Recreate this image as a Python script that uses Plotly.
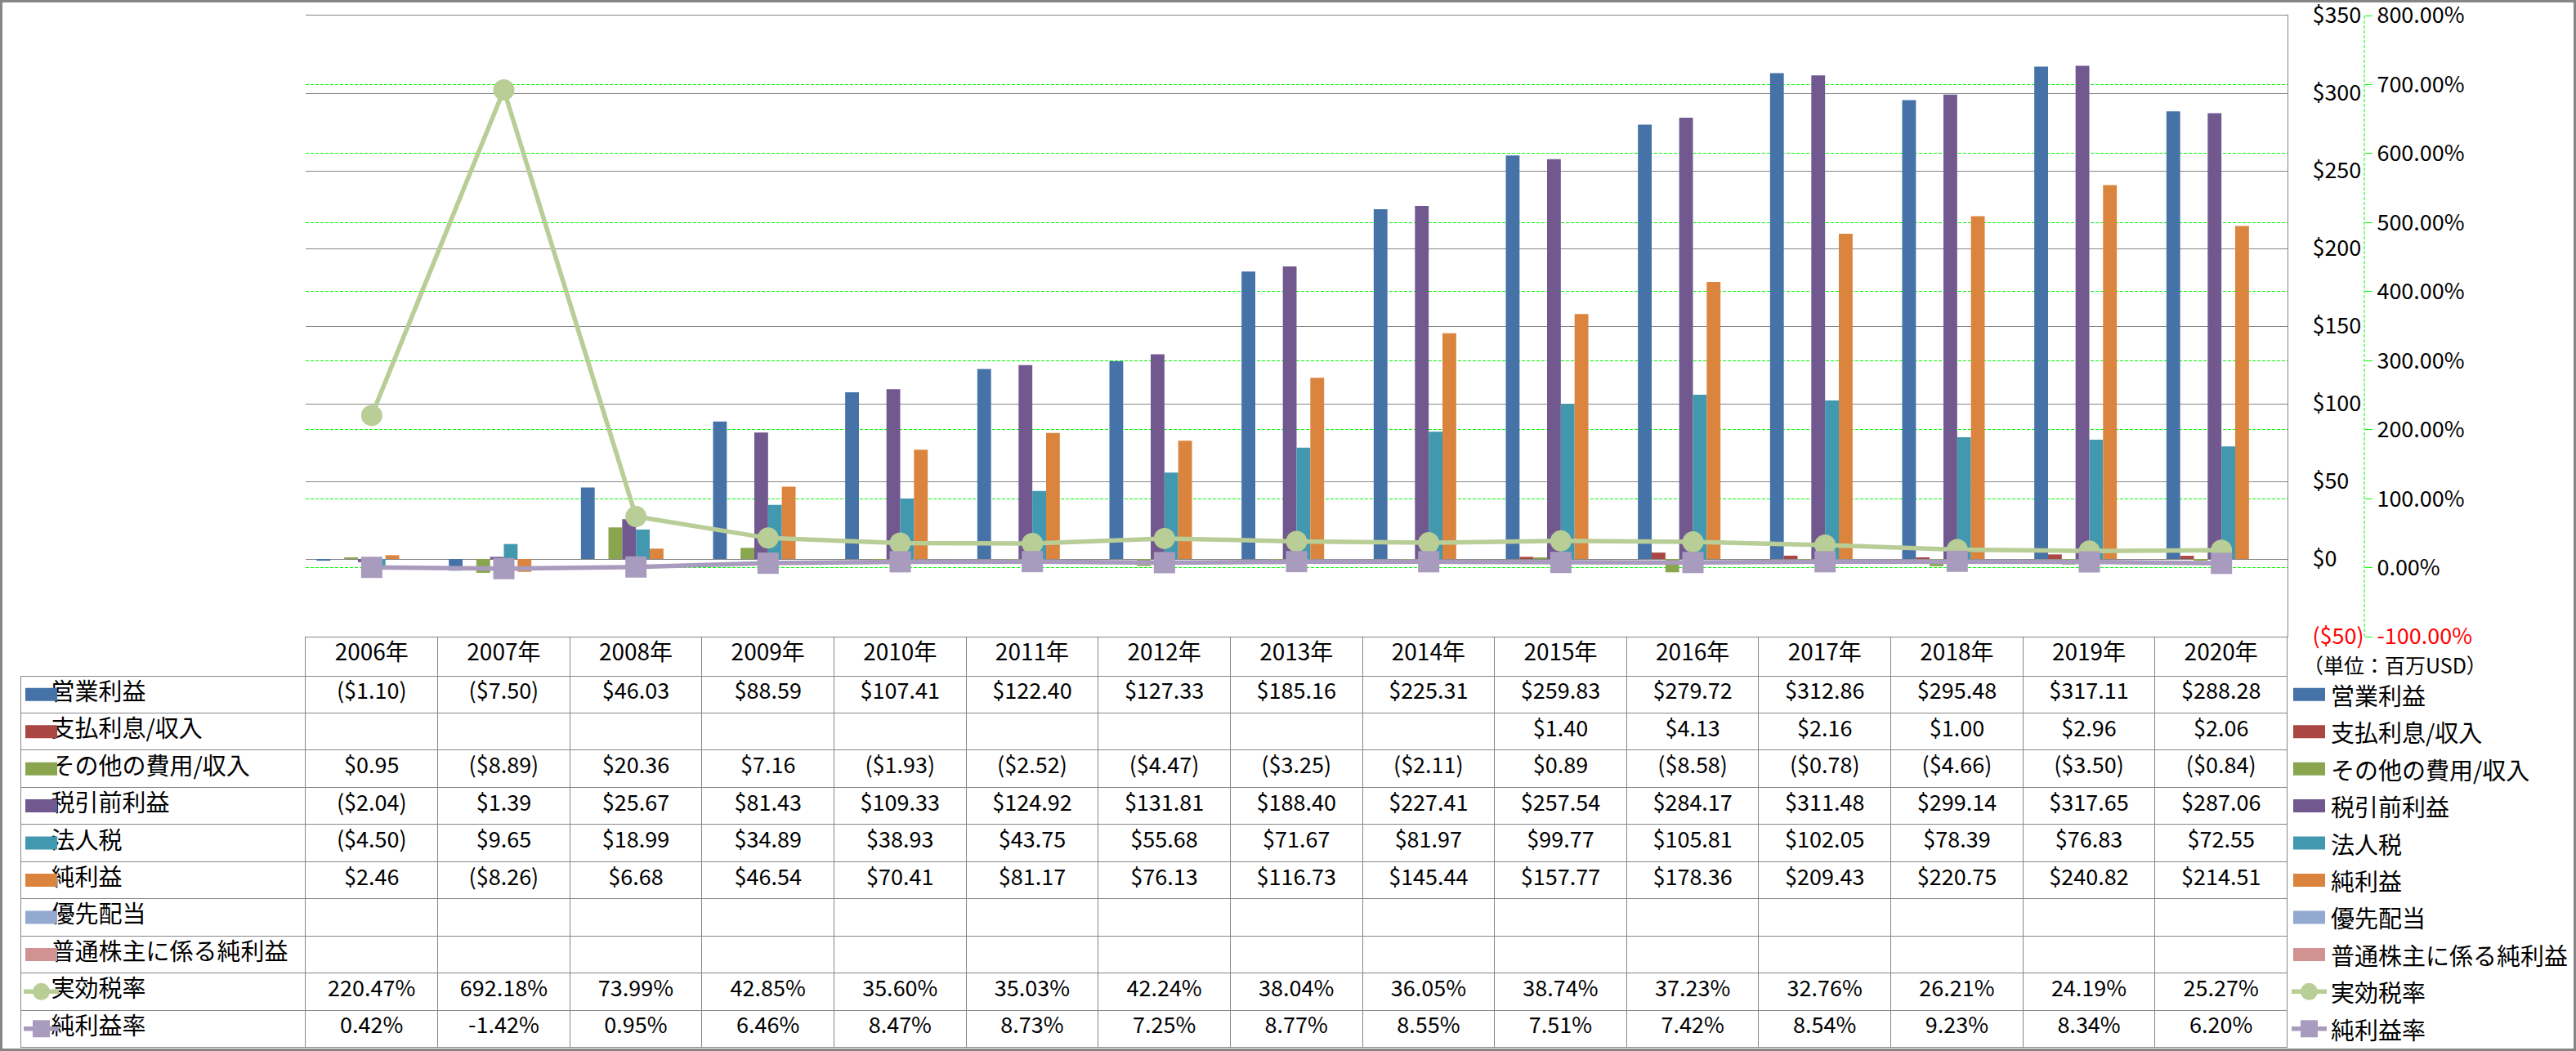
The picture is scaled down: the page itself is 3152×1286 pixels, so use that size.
import plotly.graph_objects as go

# ---------------- data ----------------
years = ["2006年", "2007年", "2008年", "2009年", "2010年", "2011年", "2012年", "2013年",
         "2014年", "2015年", "2016年", "2017年", "2018年", "2019年", "2020年"]

operating_income = [-1.10, -7.50, 46.03, 88.59, 107.41, 122.40, 127.33, 185.16,
                    225.31, 259.83, 279.72, 312.86, 295.48, 317.11, 288.28]
interest_expense = [None, None, None, None, None, None, None, None,
                    None, 1.40, 4.13, 2.16, 1.00, 2.96, 2.06]
other_expense = [0.95, -8.89, 20.36, 7.16, -1.93, -2.52, -4.47, -3.25,
                 -2.11, 0.89, -8.58, -0.78, -4.66, -3.50, -0.84]
pretax_income = [-2.04, 1.39, 25.67, 81.43, 109.33, 124.92, 131.81, 188.40,
                 227.41, 257.54, 284.17, 311.48, 299.14, 317.65, 287.06]
income_tax = [-4.50, 9.65, 18.99, 34.89, 38.93, 43.75, 55.68, 71.67,
              81.97, 99.77, 105.81, 102.05, 78.39, 76.83, 72.55]
net_income = [2.46, -8.26, 6.68, 46.54, 70.41, 81.17, 76.13, 116.73,
              145.44, 157.77, 178.36, 209.43, 220.75, 240.82, 214.51]
preferred_dividends = [None] * 15
net_income_common = [None] * 15
effective_tax_rate = [220.47, 692.18, 73.99, 42.85, 35.60, 35.03, 42.24, 38.04,
                      36.05, 38.74, 37.23, 32.76, 26.21, 24.19, 25.27]
net_margin = [0.42, -1.42, 0.95, 6.46, 8.47, 8.73, 7.25, 8.77,
              8.55, 7.51, 7.42, 8.54, 9.23, 8.34, 6.20]

bar_names = ["営業利益", "支払利息/収入", "その他の費用/収入", "税引前利益", "法人税",
             "純利益", "優先配当", "普通株主に係る純利益"]
bar_values = [operating_income, interest_expense, other_expense, pretax_income,
              income_tax, net_income, preferred_dividends, net_income_common]
bar_colors = ["#4572A7", "#AA4643", "#89A54E", "#71588F", "#4198AF",
              "#DB843D", "#93A9CF", "#D19392"]

line_names = ["実効税率", "純利益率"]
line_values = [effective_tax_rate, net_margin]
line_colors = ["#B9CD96", "#A99BBD"]
line_symbols = ["circle", "square"]

usd_ticks = [-50, 0, 50, 100, 150, 200, 250, 300, 350]
pct_ticks = [-100, 0, 100, 200, 300, 400, 500, 600, 700, 800]
unit_label = "（単位：百万USD）"

# ---------------- geometry helpers ----------------
W, H = 3152, 1286
ML, MR, MT, MB = 25, 252, 19, 4
PW = W - ML - MR
PH = H - MT - MB


def px2x(px):
    return (px - ML) / PW


def py2y(py):
    return (H - MB - py) / PH


PLOT_L, PLOT_R, PLOT_T, PLOT_B = 374, 2799, 19, 779
TABLE_L = 25.5
HEADER_H = 48
ROW_H = 45.45

FONT = "Noto Sans CJK JP, Noto Sans, sans-serif"
GRAY = "#868686"
GREEN = "#00FF00"
NUM_SIZE = 27
JP_SIZE = 29


def fmt_usd(v):
    if v is None:
        return ""
    if v < 0:
        return "(${:.2f})".format(-v)
    return "${:.2f}".format(v)


def fmt_pct(v):
    if v is None:
        return ""
    return "{:.2f}%".format(v)


def usd_tick(v):
    if v < 0:
        return "<span style='color:#FF0000'>(${:d})</span>".format(-v)
    return "${:d}".format(v)


def pct_tick(v):
    s = "{:.2f}%".format(v)
    if v < 0:
        return "<span style='color:#FF0000'>" + s + "</span>"
    return s


fig = go.Figure()

for name, vals, col in zip(bar_names, bar_values, bar_colors):
    fig.add_trace(go.Bar(
        x=years, y=vals, name=name, marker=dict(color=col, line=dict(width=0)),
        yaxis="y", xaxis="x", showlegend=False,
    ))

for name, vals, col, sym in zip(line_names, line_values, line_colors, line_symbols):
    fig.add_trace(go.Scatter(
        x=years, y=vals, name=name, mode="lines+markers",
        line=dict(color=col, width=5.5),
        marker=dict(color=col, size=26, symbol=sym, line=dict(width=0)),
        yaxis="y2", xaxis="x", showlegend=False,
    ))

# ---------------- data table ----------------
row_names = bar_names + line_names
row_values = [[fmt_usd(v) for v in vals] for vals in bar_values] + \
             [[fmt_pct(v) for v in vals] for vals in line_values]
label_col = ["\u3000" + n for n in row_names]
columns = [label_col] + [[row_values[r][c] for r in range(len(row_names))] for c in range(len(years))]

col_w = [PLOT_L - TABLE_L] + [(PLOT_R - PLOT_L) / len(years)] * len(years)

fig.add_trace(go.Table(
    domain=dict(x=[px2x(TABLE_L), px2x(PLOT_R)], y=[0, py2y(PLOT_B)]),
    columnwidth=col_w,
    header=dict(
        values=[""] + years,
        height=HEADER_H,
        align="center",
        font=dict(family=FONT, size=28, color="black"),
        fill=dict(color="rgba(0,0,0,0)"),
        line=dict(color=GRAY, width=[0] + [1] * len(years)),
    ),
    cells=dict(
        values=columns,
        height=ROW_H,
        align=["left"] + ["center"] * len(years),
        font=dict(family=FONT, size=[JP_SIZE] + [NUM_SIZE] * len(years), color="black"),
        fill=dict(color="rgba(0,0,0,0)"),
        line=dict(color=GRAY, width=1),
    ),
))

# ---------------- legend keys (table column + right side) ----------------
shapes = []
annotations = []
all_colors = bar_colors + line_colors
n_bar = len(bar_names)
for i, name in enumerate(row_names):
    cy = PLOT_B + HEADER_H + ROW_H * i + ROW_H / 2
    col = all_colors[i]
    for (kx0, kx1, tx) in [(31, 70, None), (2806, 2845, 2850)]:
        if i < n_bar:
            shapes.append(dict(type="rect", xref="paper", yref="paper",
                               x0=px2x(kx0), x1=px2x(kx1), y0=py2y(cy + 8), y1=py2y(cy - 8),
                               fillcolor=col, line=dict(width=0), layer="above"))
        else:
            lx0, lx1 = kx0 - 2, kx1 + 2
            cx = (lx0 + lx1) / 2
            shapes.append(dict(type="line", xref="paper", yref="paper",
                               x0=px2x(lx0), x1=px2x(lx1), y0=py2y(cy), y1=py2y(cy),
                               line=dict(color=col, width=5.5), layer="above"))
            r = 10.5
            shapes.append(dict(type="circle" if line_symbols[i - n_bar] == "circle" else "rect",
                               xref="paper", yref="paper",
                               x0=px2x(cx - r), x1=px2x(cx + r), y0=py2y(cy + r), y1=py2y(cy - r),
                               fillcolor=col, line=dict(width=0), layer="above"))
        if tx is not None:
            annotations.append(dict(xref="paper", yref="paper", x=px2x(tx), y=py2y(cy),
                                    xanchor="left", yanchor="middle", showarrow=False,
                                    text=name, font=dict(family=FONT, size=JP_SIZE, color="black")))

annotations.append(dict(xref="paper", yref="paper", x=px2x(2816), y=py2y(813),
                        xanchor="left", yanchor="middle", showarrow=False,
                        text=unit_label, font=dict(family=FONT, size=25, color="black")))

# secondary axis line (dashed green)
shapes.append(dict(type="line", xref="paper", yref="paper",
                   x0=px2x(2893), x1=px2x(2893), y0=py2y(PLOT_B), y1=py2y(PLOT_T),
                   line=dict(color=GREEN, width=1, dash="4px,2px"), layer="above"))
# outer frame
shapes.append(dict(type="rect", xref="paper", yref="paper",
                   x0=px2x(1.5), x1=px2x(W - 1.5), y0=py2y(H - 1.5), y1=py2y(1.5),
                   line=dict(color=GRAY, width=3), fillcolor="rgba(0,0,0,0)", layer="above"))

fig.update_layout(
    width=W, height=H,
    margin=dict(l=ML, r=MR, t=MT, b=MB, pad=0, autoexpand=False),
    paper_bgcolor="white", plot_bgcolor="white",
    font=dict(family=FONT, size=NUM_SIZE, color="black"),
    showlegend=False,
    barmode="group", bargap=0.167, bargroupgap=0,
    xaxis=dict(domain=[px2x(PLOT_L), px2x(PLOT_R)], range=[-0.5, len(years) - 0.5],
               showticklabels=False, showgrid=False, zeroline=False,
               showline=True, mirror=True, linecolor=GRAY, linewidth=1,
               ticks="", fixedrange=True, automargin=False),
    yaxis=dict(domain=[py2y(PLOT_B), py2y(PLOT_T)], range=[-50, 350], side="right",
               tickvals=usd_ticks, ticktext=[usd_tick(v) for v in usd_ticks],
               showgrid=True, gridcolor=GRAY, gridwidth=1, zeroline=False,
               showline=True, linecolor=GRAY, linewidth=1, ticks="",
               ticklabeloverflow="allow", automargin=False,
               ticklabelstandoff=24, tickfont=dict(family=FONT, size=NUM_SIZE, color="black")),
    yaxis2=dict(overlaying="y", side="right", anchor="free", position=px2x(2893),
                range=[-100, 800], tickvals=pct_ticks, ticktext=[pct_tick(v) for v in pct_ticks],
                showgrid=True, gridcolor=GREEN, gridwidth=1, griddash="4px,2px",
                zeroline=False, showline=False, ticks="outside", ticklen=9,
                tickcolor=GREEN, tickwidth=1, ticklabelstandoff=0,
                ticklabeloverflow="allow", automargin=False,
                tickfont=dict(family=FONT, size=NUM_SIZE, color="black")),
    shapes=shapes,
    annotations=annotations,
)

fig.write_html(
    "out.html",
    config={"displayModeBar": False},
    post_script="document.body.style.margin='0';document.body.style.overflow='hidden';",
)
